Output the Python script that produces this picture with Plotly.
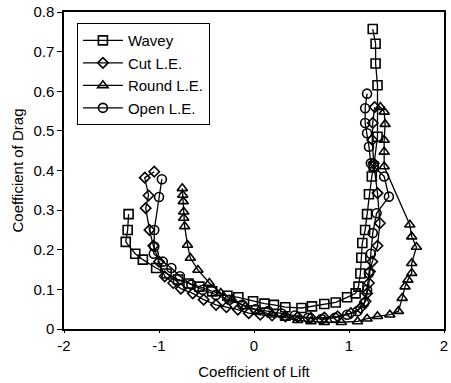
import plotly.graph_objects as go

# Lift / drag polars for four leading-edge shapes
wavey_cl = [-1.32, -1.33, -1.35, -1.25, -1.17, -1.03, -0.92, -0.80, -0.69, -0.575, -0.44,
            -0.28, -0.165, -0.01, 0.11, 0.21, 0.33, 0.50, 0.61, 0.74, 0.86, 0.98, 1.07,
            1.10, 1.12, 1.13, 1.14, 1.17, 1.19, 1.21, 1.24, 1.26, 1.30, 1.30, 1.28, 1.28, 1.25]
wavey_cd = [0.29, 0.25, 0.22, 0.19, 0.175, 0.154, 0.14, 0.125, 0.115, 0.107, 0.095,
            0.084, 0.08, 0.07, 0.064, 0.061, 0.055, 0.053, 0.057, 0.063, 0.067, 0.08, 0.09,
            0.107, 0.14, 0.18, 0.217, 0.25, 0.29, 0.34, 0.385, 0.41, 0.485, 0.615, 0.67, 0.72, 0.757]

cut_cl = [-1.05, -1.15, -1.11, -1.14, -1.10, -1.06, -1.0, -0.94, -0.85, -0.77, -0.645,
          -0.53, -0.40, -0.29, -0.17, -0.055, 0.066, 0.19, 0.33, 0.46, 0.60, 0.74, 0.88,
          1.02, 1.12, 1.175, 1.19, 1.21, 1.22, 1.245, 1.30, 1.325, 1.30, 1.26, 1.245, 1.25, 1.27]
cut_cd = [0.397, 0.382, 0.337, 0.305, 0.25, 0.21, 0.17, 0.133, 0.116, 0.102, 0.09,
          0.074, 0.061, 0.055, 0.049, 0.04, 0.036, 0.034, 0.032, 0.03, 0.028, 0.029, 0.032,
          0.04, 0.053, 0.07, 0.09, 0.116, 0.145, 0.17, 0.21, 0.267, 0.343, 0.418, 0.477, 0.52, 0.56]

round_cl = [-0.755, -0.75, -0.745, -0.74, -0.74, -0.73, -0.70, -0.67, -0.59, -0.47, -0.35,
            -0.23, -0.09, 0.05, 0.19, 0.33, 0.46, 0.60, 0.74, 0.92, 1.09, 1.19, 1.30, 1.43,
            1.52, 1.56, 1.59, 1.62, 1.66, 1.66, 1.71, 1.66, 1.64, 1.37, 1.37, 1.37, 1.38, 1.37, 1.33]
round_cd = [0.355, 0.338, 0.322, 0.296, 0.28, 0.259, 0.212, 0.179, 0.149, 0.116, 0.091,
            0.074, 0.057, 0.045, 0.036, 0.028, 0.022, 0.019, 0.017, 0.017, 0.019, 0.026, 0.032, 0.036,
            0.045, 0.078, 0.107, 0.124, 0.141, 0.166, 0.207, 0.233, 0.263, 0.41, 0.447, 0.477, 0.517, 0.548, 0.56]

open_cl = [-0.97, -1.0, -1.05, -1.05, -1.055, -0.96, -0.87, -0.78, -0.66, -0.54, -0.40,
           -0.26, -0.125, 0.014, 0.15, 0.29, 0.43, 0.57, 0.71, 0.85, 0.98, 1.09, 1.16,
           1.19, 1.21, 1.23, 1.25, 1.29, 1.42, 1.37, 1.26, 1.23, 1.21, 1.19, 1.17, 1.17, 1.19]
open_cd = [0.378, 0.333, 0.25, 0.208, 0.19, 0.17, 0.154, 0.133, 0.112, 0.099, 0.086,
           0.074, 0.061, 0.05, 0.045, 0.039, 0.034, 0.028, 0.025, 0.028, 0.036, 0.045, 0.065,
           0.099, 0.141, 0.19, 0.242, 0.292, 0.334, 0.385, 0.41, 0.418, 0.46, 0.494, 0.52, 0.557, 0.594]

series = [
    ("Wavey", wavey_cl, wavey_cd, "square-open", 9),
    ("Cut L.E.", cut_cl, cut_cd, "diamond-open", 8),
    ("Round L.E.", round_cl, round_cd, "triangle-up-open", 9),
    ("Open L.E.", open_cl, open_cd, "circle-open", 9),
]

FONT = "Liberation Sans, Arial, sans-serif"

fig = go.Figure()
for name, cl, cd, sym, size in series:
    fig.add_trace(go.Scatter(
        x=cl, y=cd, name=name, mode="lines+markers",
        line=dict(color="black", width=1.3),
        marker=dict(symbol=sym, size=size, color="black", line=dict(color="black", width=1.6)),
    ))

fig.update_layout(
    width=451, height=383,
    margin=dict(l=64, r=3, t=12, b=54),
    paper_bgcolor="white", plot_bgcolor="white",
    font=dict(family=FONT, size=15, color="black"),
    showlegend=True,
    legend=dict(
        x=0.034, y=0.965, xanchor="left", yanchor="top",
        bgcolor="white", bordercolor="black", borderwidth=1,
        font=dict(family=FONT, size=15, color="black"),
        itemwidth=40, tracegroupgap=0,
    ),
)
fig.update_xaxes(
    range=[-2, 2], tickvals=[-2, -1, 0, 1, 2], ticktext=["-2", "-1", "0", "1", "2"],
    showgrid=False, zeroline=False,
    showline=True, linecolor="black", linewidth=1.5, mirror=True,
    ticks="outside", ticklen=2, tickcolor="black",
    title=dict(text="Coefficient of Lift", font=dict(family=FONT, size=15), standoff=14),
    tickfont=dict(family=FONT, size=15),
)
fig.update_yaxes(
    range=[0, 0.8], tickvals=[0, 0.1, 0.2, 0.3, 0.4, 0.5, 0.6, 0.7, 0.8],
    ticktext=["0", "0.1", "0.2", "0.3", "0.4", "0.5", "0.6", "0.7", "0.8"],
    showgrid=False, zeroline=False,
    showline=True, linecolor="black", linewidth=1.5, mirror=True,
    ticks="outside", ticklen=5, tickcolor="black",
    title=dict(text="Coefficient of Drag", font=dict(family=FONT, size=15), standoff=6),
    tickfont=dict(family=FONT, size=15),
)

fig.write_html("out.html")
